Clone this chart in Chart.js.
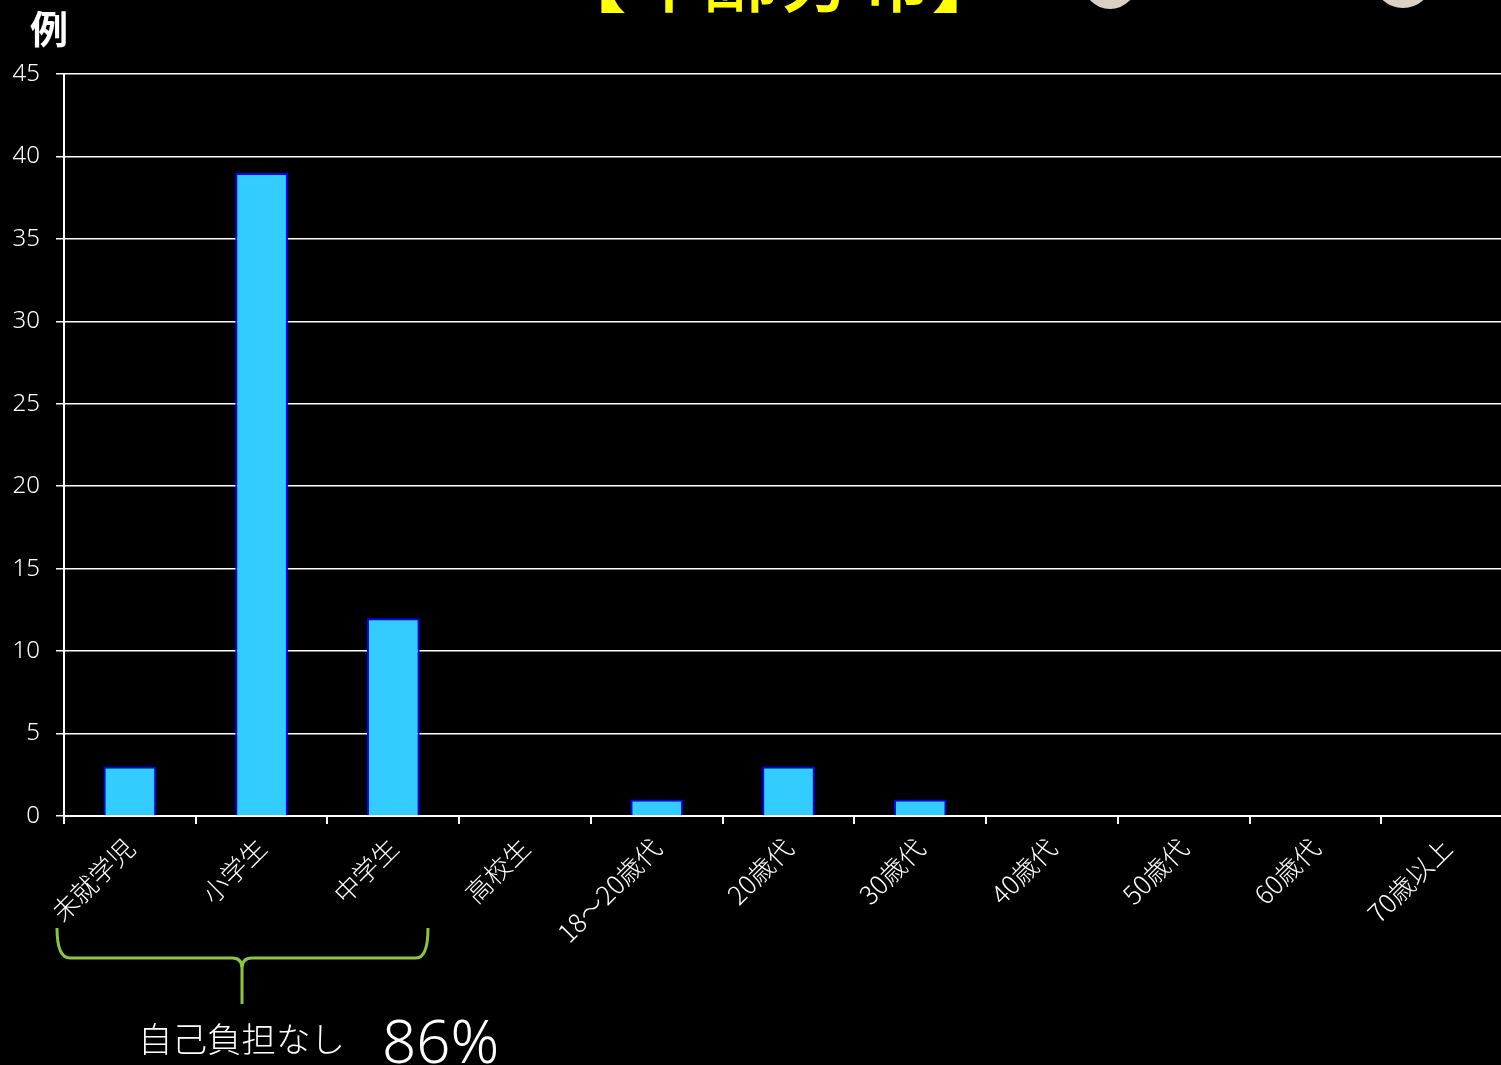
<!DOCTYPE html>
<html lang="ja">
<head>
<meta charset="utf-8">
<title>年齢分布</title>
<script src="https://cdn.jsdelivr.net/npm/chart.js@4.4.0/dist/chart.umd.min.js"></script>
<style>
  html, body { margin: 0; padding: 0; background: #000; overflow: hidden; }
  #wrap { position: absolute; left: 0; top: 0; width: 1513px; height: 1065px; }
</style>
</head>
<body>
<div id="wrap"><canvas id="ageChart" width="1513" height="1065"></canvas></div>
<script>
// 年齢別の症例数
const categories = ['未就学児', '小学生', '中学生', '高校生', '18～20歳代', '20歳代', '30歳代', '40歳代', '50歳代', '60歳代', '70歳以上'];
const cases = [3, 39, 12, 0, 1, 3, 1, 0, 0, 0, 0];
const yTicks = [0, 5, 10, 15, 20, 25, 30, 35, 40, 45];

const titleText = '【年齢分布】';
const unitLabel = '例';
const noteText = '自己負担なし';
const noteValue = '86%';

const jpFont = '"Noto Sans CJK JP", "Noto Sans", sans-serif';

// タイトル・単位・括弧などの装飾
const decorations = {
    id: 'decorations',
    afterDraw(chart) {
        const ctx = chart.ctx;
        ctx.save();

        // 上端で切れたタイトル
        ctx.fillStyle = '#ffff00';
        ctx.font = '500 76px ' + jpFont;
        ctx.textAlign = 'center';
        ctx.textBaseline = 'ideographic';
        ctx.fillText(titleText, 779, 15);

        // 上端の飾り（切れた画像）
        ctx.fillStyle = '#d9d2c4';
        ctx.beginPath();
        ctx.ellipse(1110, -18, 27, 27, 0, 0, Math.PI * 2);
        ctx.fill();
        ctx.beginPath();
        ctx.ellipse(1403, -18, 28, 26, 0, 0, Math.PI * 2);
        ctx.fill();

        // 単位
        ctx.fillStyle = '#ffffff';
        ctx.font = 'bold 38px ' + jpFont;
        ctx.textAlign = 'center';
        ctx.textBaseline = 'middle';
        ctx.fillText(unitLabel, 49, 29);

        // 括弧
        ctx.strokeStyle = '#8cc63f';
        ctx.lineWidth = 3;
        ctx.lineJoin = 'round';
        ctx.beginPath();
        ctx.moveTo(57, 928);
        ctx.quadraticCurveTo(57, 958, 70, 958);
        ctx.lineTo(232, 958);
        ctx.quadraticCurveTo(242, 958, 242, 968);
        ctx.lineTo(242, 1004);
        ctx.moveTo(242, 968);
        ctx.quadraticCurveTo(242, 958, 252, 958);
        ctx.lineTo(416, 958);
        ctx.quadraticCurveTo(428, 958, 428, 928);
        ctx.stroke();

        // 注記
        ctx.fillStyle = '#ffffff';
        ctx.textAlign = 'left';
        ctx.textBaseline = 'alphabetic';
        ctx.font = '300 34.5px ' + jpFont;
        ctx.fillText(noteText, 138, 1052);
        ctx.font = '300 60px "Noto Sans", sans-serif';
        ctx.fillText(noteValue, 382, 1063);

        ctx.restore();
    }
};

new Chart(document.getElementById('ageChart'), {
    type: 'bar',
    data: {
        labels: categories,
        datasets: [{
            data: cases,
            backgroundColor: '#33ccff',
            borderColor: '#0000ff',
            borderWidth: 2,
            barPercentage: 0.4,
            categoryPercentage: 1
        }]
    },
    options: {
        responsive: false,
        animation: false,
        layout: { padding: { top: 74, left: 0, right: 0, bottom: 0 } },
        plugins: {
            legend: { display: false },
            tooltip: { enabled: false }
        },
        scales: {
            x: {
                offset: true,
                afterFit: s => { s.height = 249; },
                grid: {
                    drawOnChartArea: false,
                    drawTicks: true,
                    tickLength: 8,
                    color: '#ffffff',
                    lineWidth: 2
                },
                border: { display: true, color: '#ffffff', width: 2 },
                ticks: {
                    color: '#ffffff',
                    font: { family: jpFont, size: 26, weight: '300' },
                    minRotation: 45,
                    maxRotation: 45,
                    padding: 8,
                    autoSkip: false
                }
            },
            y: {
                min: 0,
                max: 45,
                afterFit: s => { s.width = 64; },
                afterBuildTicks: s => { s.ticks = yTicks.map(v => ({ value: v })); },
                grid: {
                    color: '#ffffff',
                    lineWidth: 1.5,
                    tickLength: 8
                },
                border: { display: true, color: '#ffffff', width: 2 },
                ticks: {
                    color: '#ffffff',
                    font: { family: '"Noto Sans", sans-serif', size: 24, weight: '300' },
                    padding: 16
                }
            }
        }
    },
    plugins: [decorations]
});
</script>
</body>
</html>
